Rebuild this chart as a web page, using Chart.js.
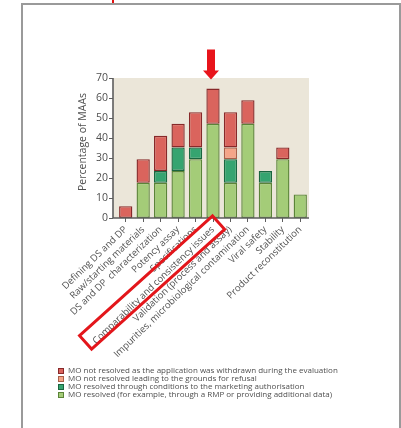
<!DOCTYPE html>
<html>
<head>
<meta charset="utf-8">
<script src="https://cdn.jsdelivr.net/npm/chart.js@4.4.1/dist/chart.umd.min.js"></script>
<style>
  html, body { margin: 0; padding: 0; background: #fff; }
  #wrap { position: relative; width: 401px; height: 428px; overflow: hidden; }
  #frame { position: absolute; left: 21px; top: 3px; width: 376px; height: 440px;
           border: 2px solid #9a9a9a; border-bottom: none; }
  #mark { position: absolute; left: 112px; top: 0; width: 2px; height: 3px; background: #e01010; }
  canvas { position: absolute; left: 0; top: 0; }
</style>
</head>
<body>
<div id="wrap">
  <div id="frame"></div>
  <div id="mark"></div>
  <canvas id="c" width="401" height="428"></canvas>
</div>
<script>
// Categories of major objections (MO) raised during evaluation
const categories = [
  'Defining DS and DP',
  'Raw/starting materials',
  'DS and DP  characterization',
  'Potency assay',
  'Specifications',
  'Comparability and consistency issues',
  'Validation (process and assay)',
  'Impurities, microbiological contamination',
  'Viral safety',
  'Stability',
  'Product reconstitution'
];

// Percentage of MAAs per outcome (stacked bottom to top)
const resolvedOther        = [null, 17.6, 17.6, 23.5, 29.4, 47.1, 17.6, 47.1, 17.6, 29.4, 11.8];
const resolvedConditions   = [null, null,  5.9, 11.8,  5.9, null, 11.8, null,  5.9, null, null];
const notResolvedRefusal   = [null, null, null, null, null, null,  5.9, null, null, null, null];
const notResolvedWithdrawn = [5.9, 11.8, 17.6, 11.8, 17.6, 17.6, 17.6, 11.8, null, 5.9, null];

const seriesLabels = [
  'MO resolved (for example, through a RMP or providing additional data)',
  'MO resolved through conditions to the marketing authorisation',
  'MO not resolved leading to the grounds for refusal',
  'MO not resolved as the application was withdrawn during the evaluation'
];

const yTicks = [0, 10, 20, 30, 40, 50, 60, 70];
const yTitle = 'Percentage of MAAs';
const highlightIndex = 5;

const TEXT = '#4f4f4f';
const AXIS = '#5e5e5e';
const FONT = '"Open Sans", "DejaVu Sans", sans-serif';

const decor = {
  id: 'decor',
  beforeDraw(chart) {
    const { ctx, chartArea: a } = chart;
    ctx.save();
    ctx.fillStyle = '#ebe6d9';
    ctx.fillRect(a.left - 4, a.top, a.right - a.left + 4, a.bottom - a.top);
    ctx.restore();
  },
  afterDatasetsDraw(chart) {
    const { ctx, chartArea: a, scales: { y } } = chart;
    const ax = a.left - 4;
    ctx.save();
    ctx.strokeStyle = AXIS;
    ctx.lineWidth = 1.6;
    ctx.beginPath();
    ctx.moveTo(ax, a.top);
    ctx.lineTo(ax, a.bottom);
    ctx.lineTo(a.right, a.bottom);
    ctx.stroke();
    ctx.lineWidth = 1;
    yTicks.forEach(v => {
      const py = Math.round(y.getPixelForValue(v)) + 0.5;
      ctx.beginPath();
      ctx.moveTo(ax - 4, py);
      ctx.lineTo(ax, py);
      ctx.stroke();
    });
    ctx.restore();
  },
  afterDraw(chart) {
    const { ctx, chartArea: a, scales: { x, y } } = chart;
    const ds = chart.data.datasets;
    ctx.save();

    // y axis title
    ctx.fillStyle = TEXT;
    ctx.font = '10.5px ' + FONT;
    ctx.textAlign = 'center';
    ctx.textBaseline = 'middle';
    ctx.translate(83.5, 142);
    ctx.rotate(-Math.PI / 2);
    ctx.fillText(yTitle, 0, 0);
    ctx.setTransform(1, 0, 0, 1, 0, 0);

    // legend, withdrawn first
    ctx.font = '8px ' + FONT;
    ctx.textAlign = 'left';
    for (let i = 0; i < ds.length; i++) {
      const d = ds[ds.length - 1 - i];
      const ly = 371 + i * 8;
      ctx.fillStyle = d.backgroundColor;
      ctx.fillRect(58.5, ly - 2.5, 5, 5);
      ctx.strokeStyle = d.borderColor;
      ctx.lineWidth = 1;
      ctx.strokeRect(58.5, ly - 2.5, 5, 5);
      ctx.fillStyle = TEXT;
      ctx.fillText(d.label, 68, ly);
    }

    // highlight frame around the comparability label
    const tx = x.getPixelForValue(highlightIndex);
    const ty = a.bottom;
    const ang = 42 * Math.PI / 180;
    const dx = -Math.cos(ang), dy = Math.sin(ang);
    const nx = Math.sin(ang), ny = Math.cos(ang);
    const m0x = tx + 5.6, m0y = ty + 4.6, len = 179, hw = 9;
    const m1x = m0x + dx * len, m1y = m0y + dy * len;
    ctx.strokeStyle = '#e3161b';
    ctx.lineWidth = 3;
    ctx.lineJoin = 'miter';
    ctx.beginPath();
    ctx.moveTo(m0x - nx * hw, m0y - ny * hw);
    ctx.lineTo(m0x + nx * hw, m0y + ny * hw);
    ctx.lineTo(m1x + nx * hw, m1y + ny * hw);
    ctx.lineTo(m1x - nx * hw, m1y - ny * hw);
    ctx.closePath();
    ctx.stroke();

    // arrow pointing at the tallest bar
    let total = 0;
    ds.forEach(d => { total += d.data[highlightIndex] || 0; });
    const cx = tx - 2;
    const tip = y.getPixelForValue(total) - 9;
    ctx.fillStyle = '#e8141b';
    ctx.beginPath();
    ctx.moveTo(cx - 4, tip - 30);
    ctx.lineTo(cx + 4, tip - 30);
    ctx.lineTo(cx + 4, tip - 9);
    ctx.lineTo(cx + 8, tip - 9);
    ctx.lineTo(cx, tip);
    ctx.lineTo(cx - 8, tip - 9);
    ctx.lineTo(cx - 4, tip - 9);
    ctx.closePath();
    ctx.fill();

    ctx.restore();
  }
};

const barStyle = { borderWidth: 1.4, barPercentage: 0.76, categoryPercentage: 1, borderSkipped: false };

new Chart(document.getElementById('c'), {
  type: 'bar',
  data: {
    labels: categories,
    datasets: [
      { label: seriesLabels[0], data: resolvedOther,        backgroundColor: '#a4cc78', borderColor: '#5b8438', ...barStyle },
      { label: seriesLabels[1], data: resolvedConditions,   backgroundColor: '#36a470', borderColor: '#1a6640', ...barStyle },
      { label: seriesLabels[2], data: notResolvedRefusal,   backgroundColor: '#f5a588', borderColor: '#a9604a', ...barStyle },
      { label: seriesLabels[3], data: notResolvedWithdrawn, backgroundColor: '#da645d', borderColor: '#87292a', ...barStyle }
    ]
  },
  options: {
    responsive: false,
    animation: false,
    devicePixelRatio: 1,
    layout: { padding: { top: 78, right: 92, left: 0, bottom: 0 } },
    plugins: { legend: { display: false }, tooltip: { enabled: false } },
    scales: {
      x: {
        stacked: true,
        grid: { display: true, drawOnChartArea: false, drawTicks: true, tickLength: 4, color: AXIS, offset: false },
        border: { display: false },
        ticks: { autoSkip: false, minRotation: 44, maxRotation: 44, padding: 2, color: TEXT, font: { family: FONT, size: 9.5 } },
        afterFit(s) { s.height = 210; }
      },
      y: {
        stacked: true,
        min: 0, max: 70,
        grid: { display: false, drawTicks: false },
        border: { display: false },
        ticks: { stepSize: 10, padding: 9, color: TEXT, font: { family: FONT, size: 10.5 } },
        afterFit(s) { s.width = 117; }
      }
    }
  },
  plugins: [decor]
});
</script>
</body>
</html>
